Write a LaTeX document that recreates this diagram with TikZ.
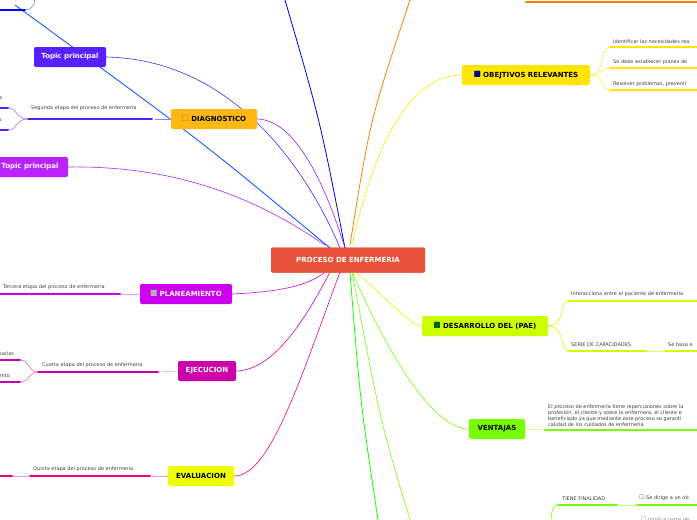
\documentclass[tikz,border=0pt]{standalone}
\usepackage{amssymb}
\usepackage{fontspec}
\setmainfont{DejaVu Sans}
\usetikzlibrary{positioning}
\definecolor{cRed}{HTML}{E8533A}
\definecolor{cOrange}{HTML}{FDB813}
\definecolor{cYellow}{HTML}{FFE500}
\definecolor{cLime}{HTML}{CCFF00}
\definecolor{cGreen}{HTML}{77FF00}
\definecolor{cPurple}{HTML}{5522FF}
\definecolor{cViolet}{HTML}{BB22FF}
\definecolor{cMag}{HTML}{CC00EE}
\definecolor{cPink}{HTML}{CC00AA}
\definecolor{cEval}{HTML}{F0FF00}
\tikzset{
  topic/.style={rounded corners=2pt, font=\fontsize{7}{8}\selectfont\bfseries, inner sep=0pt, minimum height=20pt},
  lbl/.style={font=\fontsize{5}{6.2}\selectfont, text=black!75, inner sep=1pt, anchor=south west},
  uline/.style={line width=2pt, line cap=round},
  thin/.style={line width=0.6pt}
}
\begin{document}
\begin{tikzpicture}[x=1pt,y=-1pt]
	\useasboundingbox (0,0) rectangle (697,520);
	%Center
		\node[topic, fill=cRed, text=white, minimum width=154pt, minimum height=25pt] (center) at (348,260) {PROCESO DE ENFERMERIA};
	%Branches upper left
		\draw[thick, blue!85!black] (345,248) .. controls (320,120) .. (285,0);
		\draw[thick, blue!70!cyan] (330,248) .. controls (200,140) .. (15,5);
		\node[topic, fill=cPurple, text=white, minimum width=72pt] (topic1) at (70,57) {Topic principal};
		\draw[thin, cPurple] (topic1.east) .. controls (250,60) and (320,200) .. (340,248);
		\node[topic, fill=cOrange, minimum width=86pt] (diag) at (214,119) {\textcolor{brown}{\small$\square$}\ DIAGNOSTICO};
		\draw[thin, cViolet!80!blue] (diag.east) .. controls (300,120) and (330,200) .. (345,248);
		\draw[thin, cPurple!60] (diag.west) -- (155,119);
		\node[lbl] (diag2) at (30,112) {Segunda etapa del proceso de enfermería};
		\draw[uline, cPurple] (28,119) -- (152,119);
		\draw[thin, cPurple!60] (28,119) .. controls (15,119) and (18,108) .. (8,108);
		\draw[thin, cPurple!60] (28,119) .. controls (15,119) and (18,130) .. (8,130);
		\draw[uline, cPurple] (0,108) -- (8,108);
		\draw[uline, cPurple] (0,130) -- (8,130);
		\node[lbl, anchor=south west] (diagA) at (-2,101) {a};
		\node[lbl, anchor=south west] (diagB) at (-2,123) {s};
		\node[topic, fill=cViolet, text=white, minimum width=76pt] (topic2) at (30,167) {Topic principal};
		\draw[thin, cViolet] (topic2.east) .. controls (200,165) and (280,215) .. (325,245);
	%Branches upper right
		\draw[thick, orange] (350,245) .. controls (370,120) .. (410,0);
		\draw[uline, orange] (526,2) -- (697,2);
		\node[topic, fill=cYellow, minimum width=128pt] (obj) at (526,75) {\textcolor{blue!60!black}{\small$\blacksquare$}\ OBEJTIVOS RELEVANTES};
		\draw[thin, cYellow] (352,245) .. controls (380,120) and (420,75) .. (obj.west);
		\foreach \y/\t in {47/Identificar las necesidades rea, 68/Se debe establecer planes de, 90/{Resolver problemas, prevenir}}{
			\draw[thin, cYellow!70] (obj.east) .. controls (605,75) and (600,\y) .. (610,\y);
			\draw[uline, cYellow] (610,\y) -- (700,\y);
			\node[lbl] at (612,\y-2) {\t};
		}
	%Branches lower right
		\node[topic, fill=cLime, minimum width=126pt] (pae) at (485,326) {\textcolor{green!40!black}{\small$\blacksquare$}\ DESARROLLO DEL (PAE)};
		\draw[thin, cLime] (355,272) .. controls (390,300) and (410,326) .. (pae.west);
		\draw[thin, cLime] (pae.east) .. controls (565,326) and (560,301) .. (568,301);
		\draw[thin, cLime] (pae.east) .. controls (565,326) and (560,351) .. (568,351);
		\draw[uline, cLime] (568,301) -- (700,301);
		\node[lbl] (int) at (570,298) {Interacciona entre el paciente de enfermeria};
		\draw[uline, cLime] (568,351) -- (646,351);
		\node[lbl] (serie) at (570,348) {SERIE DE CAPACIDADES};
		\draw[thin, cLime!60] (646,351) -- (665,351);
		\draw[uline, cLime] (665,351) -- (700,351);
		\node[lbl] (basa) at (667,348) {Se basa e};
		\node[topic, fill=cGreen, minimum width=56pt] (vent) at (497,429) {VENTAJAS};
		\draw[thin, cGreen] (352,272) .. controls (400,380) and (440,429) .. (vent.west);
		\draw[thin, cGreen!50] (vent.east) -- (545,430);
		\draw[uline, cGreen] (545,430) -- (700,430);
		\node[lbl, align=left, anchor=south west] (ventT) at (547,428) {El proceso de enfermería tiene repercusiones sobre la\\profesión, el cliente y sobre la enfermera, el cliente e\\beneficiado ya que mediante este proceso se garanti\\calidad de los cuidados de enfermería};
		\draw[thick, green!90!lime] (350,272) .. controls (360,400) .. (378,520);
		\draw[thin, cGreen] (352,272) .. controls (380,420) .. (410,520);
		\draw[uline, cGreen] (558,505) -- (617,505);
		\node[lbl] (fin) at (561,502) {TIENE FINALIDAD};
		\draw[thin, cGreen] (558,505) .. controls (550,505) and (552,520) .. (550,525);
		\draw[thin, cGreen!50] (617,505) -- (637,505);
		\draw[uline, cGreen] (637,505) -- (700,505);
		\node[lbl] (dir) at (638,502) {$\square$ Se dirige a un ob};
		\node[lbl, text=black!50] (impl) at (640,524) {$\square$ Implica parte de};
	%Branches lower left
		\node[topic, fill=cMag, text=white, minimum width=92pt] (plan) at (186,294) {\textcolor{gray!60}{\small$\blacksquare$}\ PLANEAMIENTO};
		\draw[thin, cMag] (plan.east) .. controls (280,292) and (310,285) .. (325,272);
		\draw[thin, cMag!40] (plan.west) -- (120,294);
		\draw[uline, cMag] (-5,294) -- (120,294);
		\node[lbl] (plan3) at (2,291) {Tercera etapa del proceso de enfermeria};
		\node[topic, fill=cPink, text=white, minimum width=58pt] (ejec) at (207,371) {EJECUCION};
		\draw[thin, cPink] (ejec.east) .. controls (270,370) and (300,330) .. (330,272);
		\draw[thin, cPink!40] (ejec.west) -- (158,372);
		\draw[uline, cPink] (38,372) -- (158,372);
		\node[lbl] (ejec4) at (41,369) {Cuarta etapa del proceso de enfermeria};
		\draw[thin, cPink!60] (38,372) .. controls (28,372) and (30,360) .. (20,360);
		\draw[thin, cPink!60] (38,372) .. controls (28,372) and (30,382) .. (20,382);
		\draw[uline, cPink] (-5,360) -- (20,360);
		\draw[uline, cPink] (-5,382) -- (20,382);
		\node[lbl] (ejecA) at (-2,357) {sarias};
		\node[lbl] (ejecB) at (-4,379) {iento};
		\node[topic, fill=cEval, minimum width=66pt] (eval) at (201,476) {EVALUACION};
		\draw[thin, magenta] (eval.east) .. controls (270,476) and (300,380) .. (340,272);
		\draw[thin, magenta!40] (eval.west) -- (150,476);
		\draw[uline, magenta] (30,476) -- (150,476);
		\node[lbl] (eval5) at (32,473) {Quinta etapa del proceso de enfermeria};
		\draw[thin, magenta!40] (12,476) -- (30,476);
		\draw[uline, magenta] (-5,476) -- (12,476);
	%Top left
		\draw[uline, blue] (-5,10) -- (25,10);
		\draw[thin, blue!50] (25,10) .. controls (35,10) and (35,0) .. (35,-5);
	%Center on top
		\node[topic, fill=cRed, text=white, minimum width=154pt, minimum height=25pt] at (center) {PROCESO DE ENFERMERIA};
\end{tikzpicture}
\end{document}
